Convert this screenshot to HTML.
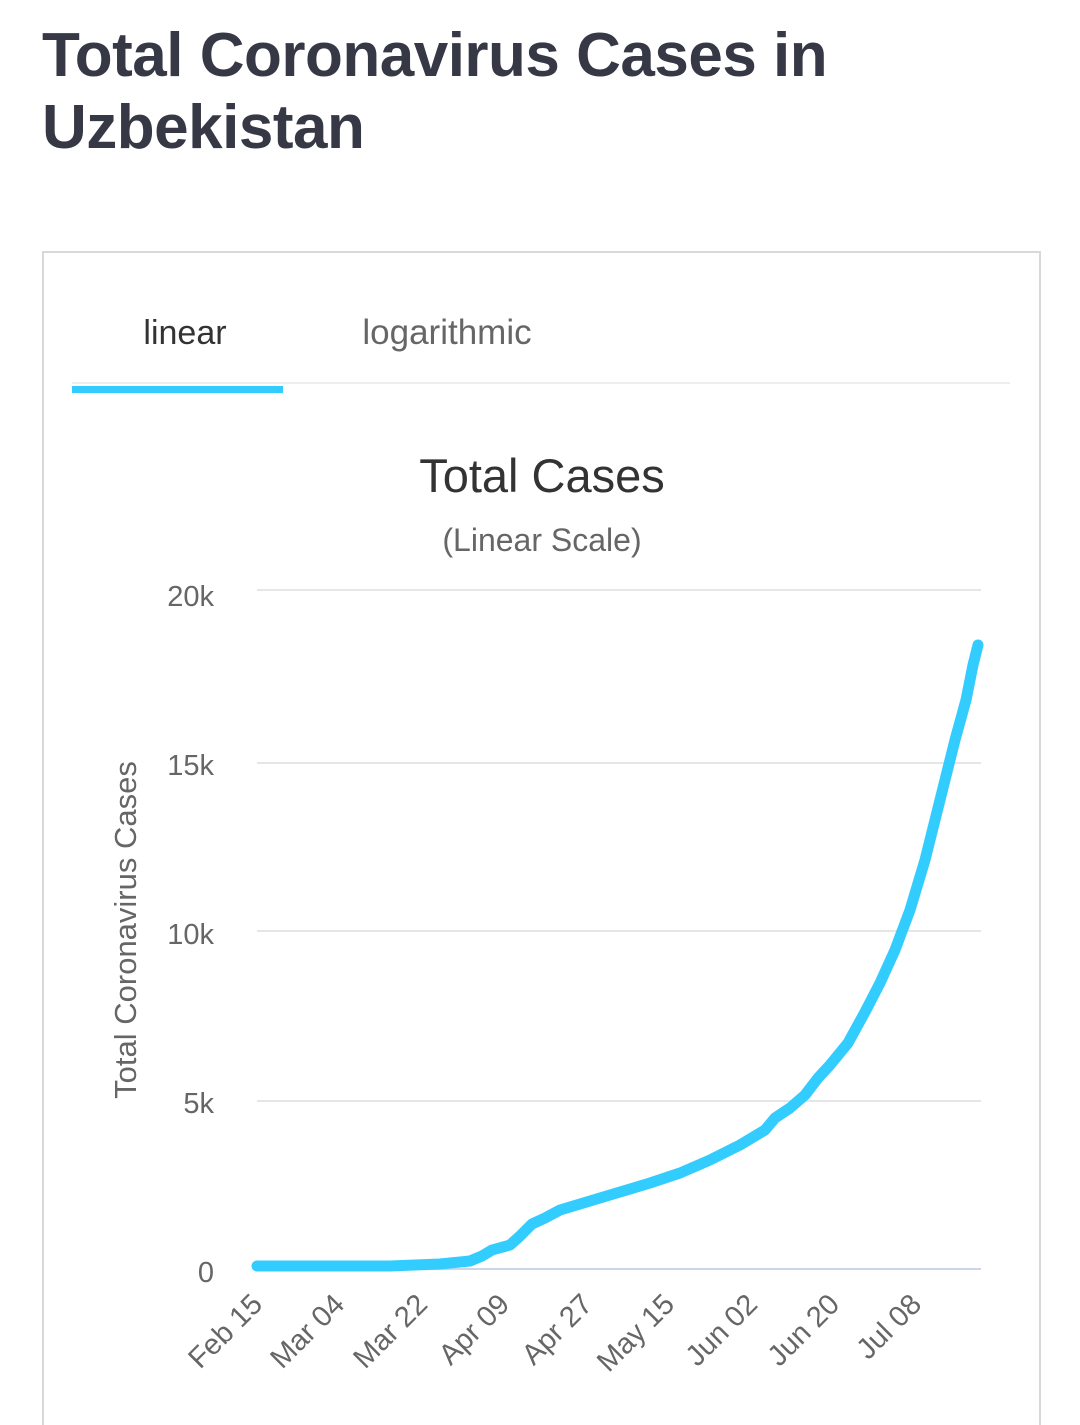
<!DOCTYPE html>
<html style="overflow:hidden;height:1425px"><head><meta charset="utf-8"><style>
body{margin:0;width:1080px;height:1425px;background:#fff;overflow:hidden;position:relative;font-family:"Liberation Sans",sans-serif}
h1{position:absolute;left:42px;top:20px;margin:0;font-size:62px;line-height:72px;font-weight:bold;color:#363945;letter-spacing:-0.5px}
.box{position:absolute;left:42px;top:251px;width:995px;height:1190px;border:2px solid #d8d8d8}
</style></head><body>
<h1>Total Coronavirus Cases in<br>Uzbekistan</h1>
<div class="box"></div>
<svg width="1080" height="1425" style="position:absolute;left:0;top:0" font-family="Liberation Sans, sans-serif">
<text x="185" y="344" font-size="34" fill="#333" text-anchor="middle">linear</text>
<text x="447" y="344" font-size="35" fill="#666" text-anchor="middle">logarithmic</text>
<line x1="72" y1="383" x2="1010" y2="383" stroke="#eee" stroke-width="2"/>
<rect x="72" y="386" width="211" height="7" fill="#33ccff"/>
<text x="542" y="492" font-size="47" fill="#333" text-anchor="middle">Total Cases</text>
<text x="542" y="551" font-size="32" fill="#666" text-anchor="middle">(Linear Scale)</text>
<g stroke="#e6e6e6" stroke-width="2">
<line x1="257" y1="590" x2="981" y2="590"/><line x1="257" y1="763" x2="981" y2="763"/>
<line x1="257" y1="931" x2="981" y2="931"/><line x1="257" y1="1101" x2="981" y2="1101"/>
</g>
<line x1="257" y1="1269" x2="981" y2="1269" stroke="#ccd6eb" stroke-width="2"/>
<g font-size="29" fill="#666" text-anchor="end">
<text x="214" y="606">20k</text><text x="214" y="775">15k</text><text x="214" y="944">10k</text><text x="214" y="1113">5k</text><text x="214" y="1282">0</text>
</g>
<text transform="translate(136,930) rotate(-90)" font-size="31" fill="#666" text-anchor="middle">Total Coronavirus Cases</text>
<g font-size="29" fill="#666" text-anchor="end">
<text transform="translate(264,1306) rotate(-45)">Feb 15</text>
<text transform="translate(346,1306) rotate(-45)">Mar 04</text>
<text transform="translate(429,1306) rotate(-45)">Mar 22</text>
<text transform="translate(511,1306) rotate(-45)">Apr 09</text>
<text transform="translate(594,1306) rotate(-45)">Apr 27</text>
<text transform="translate(676,1306) rotate(-45)">May 15</text>
<text transform="translate(759,1306) rotate(-45)">Jun 02</text>
<text transform="translate(841,1306) rotate(-45)">Jun 20</text>
<text transform="translate(923,1306) rotate(-45)">Jul 08</text>
</g>
<polyline fill="none" stroke="#33ccff" stroke-width="11" stroke-linejoin="round" stroke-linecap="round"
points="257,1266 390,1266 440,1264 470,1261 482,1256 492,1250 510,1245 520,1236 532,1224 545,1218 560,1210 590,1201 620,1192 650,1183 680,1173 710,1160 740,1145 765,1130 775,1118 790,1108 805,1095 818,1078 830,1065 848,1043 865,1012 880,983 895,950 910,910 925,860 940,800 955,740 966,700 973,665 978,645"/>
</svg>
</body></html>
